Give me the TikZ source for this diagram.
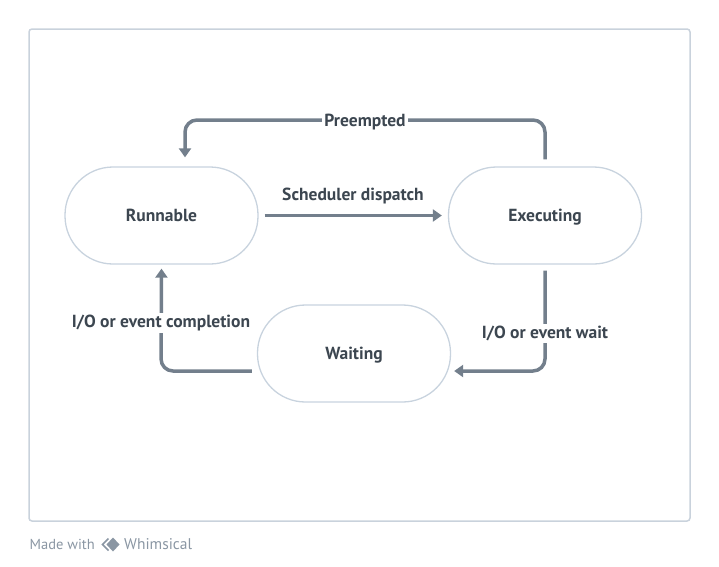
\documentclass[tikz,border=0pt]{standalone}
\usepackage{fontspec}
\setmainfont{PT Sans}
\usetikzlibrary{arrows.meta}
\definecolor{frame}{HTML}{C9D2DC}
\definecolor{nodeb}{HTML}{C8D3DE}
\definecolor{txt}{HTML}{3C4650}
\definecolor{arr}{HTML}{737F8C}
\definecolor{foot}{HTML}{8A96A3}
\tikzset{
  state/.style={draw=nodeb, line width=1.3pt, rounded corners=48pt, minimum width=193pt, minimum height=97pt, text=txt, font=\fontsize{17.5}{20}\selectfont\bfseries, text height=12.5pt, text depth=0pt},
  conn/.style={draw=arr, line width=3.5pt, rounded corners=12pt, -{Triangle[width=12pt,length=9pt]}},
  lbl/.style={text=txt, font=\fontsize{17.5}{20}\selectfont\bfseries, fill=white, inner sep=2pt, anchor=base},
}
\begin{document}
\begin{tikzpicture}[x=1pt,y=-1pt]
\useasboundingbox (0,0) rectangle (719,566);
\draw[frame, line width=1.5pt, rounded corners=3pt] (29,29) rectangle (690,521);
\node[state] (run) at (161.5,215.5) {Runnable};
\node[state] (exe) at (545,215.5) {Executing};
\node[state] (wait) at (354,353.5) {Waiting};
\coordinate (pu) at (545,120);
\coordinate (pl) at (185,120);
\draw[conn] ([yshift=7pt]exe.north) -- (pu) -- (pl) -- ([yshift=9pt]run.north -| pl);
\node[lbl] (lp) at (365,126.5) {Preempted};
\draw[conn] ([xshift=6pt]run.east) -- ([xshift=-6pt]exe.west);
\node[lbl, fill=none] (ls) at (353,200) {Scheduler dispatch};
\coordinate (wr) at (545,371);
\draw[conn] ([yshift=-6pt]exe.south) -- (wr) -- ([xshift=3pt]wait.east |- wr);
\node[lbl] (lw) at (545,338.5) {I/O or event wait};
\coordinate (cl) at (161,371);
\draw[conn] ([xshift=-5pt]wait.west |- cl) -- (cl) -- ([yshift=-4pt]run.south);
\node[lbl] (lc) at (161,327) {I/O or event completion};
\node[anchor=base west, text=foot, font=\fontsize{14.5}{17}\selectfont, inner sep=0pt] (made) at (29.5,549) {Made with};
\fill[foot] (113,537.5) -- (119.5,544.5) -- (113,551.5) -- (106.5,544.5) -- cycle;
\draw[foot, line width=1.6pt] (108.5,538.5) -- (102.5,544.5) -- (108.5,550.5);
\node[anchor=base west, text=foot, font=\fontsize{15.5}{17}\selectfont, inner sep=0pt] (whim) at (124,549) {Whimsical};
\end{tikzpicture}
\end{document}
